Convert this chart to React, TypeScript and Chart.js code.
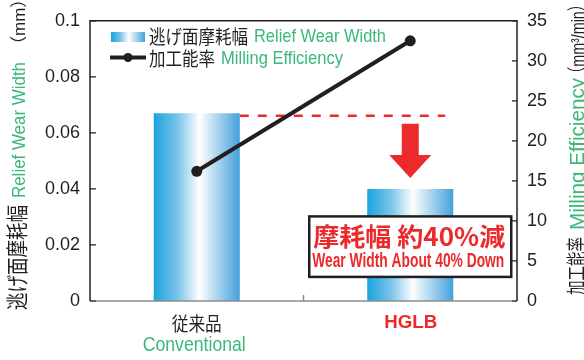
import React, { useEffect, useRef } from 'react';
import { Chart, registerables } from 'chart.js';

Chart.register(...registerables);

// ---------- data ----------
const categoriesJa = ['従来品', 'HGLB'];
const categoriesEn = ['Conventional', ''];
const wearWidthMm = [0.067, 0.04];
const millingEfficiency = [16.2, 32.5];
const leftTickValues = [0, 0.02, 0.04, 0.06, 0.08, 0.1];
const rightTickValues = [0, 5, 10, 15, 20, 25, 30, 35];

const wearJa = '逃げ面摩耗幅';
const wearEn = 'Relief Wear Width';
const effJa = '加工能率';
const effEn = 'Milling Efficiency';
const leftUnit = '（mm）';
const rightUnit = '（mm³/min）';
const calloutJa = '摩耗幅 約40%減';
const calloutEn = 'Wear Width About 40% Down';

// ---------- style ----------
const DARK = '#231f20';
const GREEN = '#3ab87a';
const RED = '#ec2a2b';
const GRAY = '#8c8c8c';
const LAT = '"Liberation Sans", Arial, "Noto Sans CJK JP", sans-serif';
const CJK = '"Noto Sans CJK JP", "Liberation Sans", sans-serif';
const BAR_PCT = 0.403;

function barGradient(ctx: CanvasRenderingContext2D, x0: number, x1: number) {
  const g = ctx.createLinearGradient(x0, 0, x1, 0);
  g.addColorStop(0, '#1ba3dd');
  g.addColorStop(0.28, '#7cc4ea');
  g.addColorStop(0.53, '#ffffff');
  g.addColorStop(1, '#42a0db');
  return g;
}

function drawFit(
  ctx: CanvasRenderingContext2D,
  text: string,
  x: number,
  y: number,
  font: string,
  color: string,
  width?: number,
  baseline: CanvasTextBaseline = 'middle'
) {
  ctx.save();
  ctx.font = font;
  ctx.fillStyle = color;
  ctx.textAlign = 'left';
  ctx.textBaseline = baseline;
  const w = ctx.measureText(text).width;
  const s = width ? width / w : 1;
  ctx.translate(x, y);
  ctx.scale(s, 1);
  ctx.fillText(text, 0, 0);
  ctx.restore();
}

type Seg = { text: string; color: string; font: string; startY: number; width?: number };

function drawVertical(ctx: CanvasRenderingContext2D, baseX: number, H: number, segs: Seg[]) {
  ctx.save();
  ctx.translate(baseX, H);
  ctx.rotate(-Math.PI / 2);
  for (const s of segs) {
    drawFit(ctx, s.text, H - s.startY, 0, s.font, s.color, s.width, 'alphabetic');
  }
  ctx.restore();
}

const decorPlugin = {
  id: 'decor',
  beforeDatasetsDraw(chart: any) {
    const ctx: CanvasRenderingContext2D = chart.ctx;
    const xs = chart.scales.x;
    const ys = chart.scales.y;
    const area = chart.chartArea;
    const half = ((area.right - area.left) / categoriesJa.length) * BAR_PCT / 2;
    const yDash = ys.getPixelForValue(wearWidthMm[0]) + 2.5;
    const x0 = xs.getPixelForValue(0) + half;
    const x1 = xs.getPixelForValue(1) + 35;
    ctx.save();
    ctx.strokeStyle = RED;
    ctx.lineWidth = 2.5;
    ctx.setLineDash([9, 9]);
    ctx.beginPath();
    ctx.moveTo(x0, yDash);
    ctx.lineTo(x1, yDash);
    ctx.stroke();
    ctx.restore();
  },
  afterDatasetsDraw(chart: any) {
    const ctx: CanvasRenderingContext2D = chart.ctx;
    const xs = chart.scales.x;
    const ys = chart.scales.y;
    const cx = xs.getPixelForValue(1);
    const yDash = ys.getPixelForValue(wearWidthMm[0]) + 2.5;
    const yBar2 = ys.getPixelForValue(wearWidthMm[1]);
    // arrow
    const top = yDash + 8;
    const tip = yBar2 - 11;
    const headTop = tip - 23;
    ctx.save();
    ctx.fillStyle = RED;
    ctx.beginPath();
    ctx.moveTo(cx - 8.5, top);
    ctx.lineTo(cx + 8.5, top);
    ctx.lineTo(cx + 8.5, headTop);
    ctx.lineTo(cx + 21, headTop);
    ctx.lineTo(cx, tip);
    ctx.lineTo(cx - 21, headTop);
    ctx.lineTo(cx - 8.5, headTop);
    ctx.closePath();
    ctx.fill();
    // callout box
    const bx = cx - 101;
    const by = yBar2 + 27.5;
    ctx.fillStyle = '#ffffff';
    ctx.fillRect(bx, by, 202, 60.5);
    ctx.strokeStyle = DARK;
    ctx.lineWidth = 2.5;
    ctx.strokeRect(bx, by, 202, 60.5);
    ctx.restore();
    drawFit(ctx, calloutJa, bx + 4, by + 20.5, `bold 25px ${CJK}`, RED, 192);
    drawFit(ctx, calloutEn, bx + 3, by + 44.5, `bold 21px ${LAT}`, RED, 192);
  },
  afterDraw(chart: any) {
    const ctx: CanvasRenderingContext2D = chart.ctx;
    const a = chart.chartArea;
    const ys = chart.scales.y;
    const ys1 = chart.scales.y1;
    const xs = chart.scales.x;
    const H = chart.height;
    ctx.save();
    // bottom axis (gray)
    ctx.strokeStyle = GRAY;
    ctx.lineWidth = 1.5;
    ctx.beginPath();
    ctx.moveTo(a.left, a.bottom);
    ctx.lineTo(a.right, a.bottom);
    const mid = (xs.getPixelForValue(0) + xs.getPixelForValue(1)) / 2;
    ctx.moveTo(mid, a.bottom);
    ctx.lineTo(mid, a.bottom - 6);
    ctx.stroke();
    // left, top, right borders
    ctx.strokeStyle = DARK;
    ctx.beginPath();
    ctx.moveTo(a.left, a.bottom);
    ctx.lineTo(a.left, a.top);
    ctx.lineTo(a.right, a.top);
    ctx.lineTo(a.right, a.bottom);
    ctx.stroke();
    // inner tick marks
    ctx.lineWidth = 1.2;
    ctx.beginPath();
    for (const v of leftTickValues) {
      const y = ys.getPixelForValue(v);
      ctx.moveTo(a.left, y);
      ctx.lineTo(a.left + 6, y);
    }
    for (const v of rightTickValues) {
      const y = ys1.getPixelForValue(v);
      ctx.moveTo(a.right, y);
      ctx.lineTo(a.right - 5, y);
    }
    ctx.stroke();
    ctx.restore();

    // axis titles
    drawVertical(ctx, 25, H, [
      { text: wearJa, color: DARK, font: `22px ${CJK}`, startY: 310, width: 105 },
      { text: wearEn, color: GREEN, font: `18px ${LAT}`, startY: 198, width: 136 },
      { text: leftUnit, color: DARK, font: `17px ${LAT}`, startY: 53 },
    ]);
    drawVertical(ctx, 584, H, [
      { text: effJa, color: DARK, font: `20px ${CJK}`, startY: 295, width: 58 },
      { text: effEn, color: GREEN, font: `20px ${LAT}`, startY: 230, width: 152 },
      { text: rightUnit, color: DARK, font: `19px ${LAT}`, startY: 81, width: 84 },
    ]);

    // legend
    ctx.save();
    ctx.fillStyle = barGradient(ctx, 111, 145);
    ctx.fillRect(111, 32, 34, 10);
    ctx.strokeStyle = DARK;
    ctx.lineWidth = 4;
    ctx.beginPath();
    ctx.moveTo(110, 57.5);
    ctx.lineTo(146, 57.5);
    ctx.stroke();
    ctx.fillStyle = DARK;
    ctx.beginPath();
    ctx.arc(128, 57.5, 4.5, 0, Math.PI * 2);
    ctx.fill();
    ctx.restore();
    drawFit(ctx, wearJa, 149, 37, `19px ${CJK}`, DARK, 99);
    drawFit(ctx, wearEn, 254, 37, `19px ${LAT}`, GREEN, 132);
    drawFit(ctx, effJa, 149, 58.5, `19px ${CJK}`, DARK, 66);
    drawFit(ctx, effEn, 221, 58.5, `19px ${LAT}`, GREEN, 122);

    // category labels
    const c0 = xs.getPixelForValue(0);
    const c1 = xs.getPixelForValue(1);
    drawFit(ctx, categoriesJa[0], c0 - 25, 323.5, `19px ${CJK}`, DARK, 50);
    drawFit(ctx, categoriesEn[0], c0 - 54, 345.5, `21px ${LAT}`, GREEN, 103);
    drawFit(ctx, categoriesJa[1], c1 - 26, 323, `bold 18px ${LAT}`, RED, 53);
  },
};

export default function App() {
  const ref = useRef<HTMLCanvasElement | null>(null);
  useEffect(() => {
    if (!ref.current) return;
    const chart = new Chart(ref.current, {
      data: {
        labels: categoriesJa,
        datasets: [
          {
            type: 'line',
            label: effJa,
            data: millingEfficiency,
            yAxisID: 'y1',
            borderColor: DARK,
            borderWidth: 4,
            pointRadius: 5.5,
            pointBackgroundColor: DARK,
            pointBorderWidth: 0,
            order: 0,
          },
          {
            type: 'bar',
            label: wearJa,
            data: wearWidthMm,
            yAxisID: 'y',
            barPercentage: BAR_PCT,
            categoryPercentage: 1,
            borderWidth: 0,
            order: 1,
            backgroundColor: (c: any) => {
              const chart = c.chart;
              const area = chart.chartArea;
              if (!area || typeof c.dataIndex !== 'number') return '#29a8e0';
              const xs = chart.scales.x;
              const center = xs.getPixelForValue(c.dataIndex);
              const half = ((area.right - area.left) / categoriesJa.length) * BAR_PCT / 2;
              if (!isFinite(center)) return '#29a8e0';
              return barGradient(chart.ctx, center - half, center + half);
            },
          },
        ] as any,
      },
      options: {
        animation: false,
        responsive: true,
        maintainAspectRatio: false,
        layout: { padding: { top: 13, left: 0, right: 0, bottom: 0 } },
        plugins: { legend: { display: false }, tooltip: { enabled: false } },
        scales: {
          x: {
            type: 'category',
            offset: true,
            grid: { display: false },
            border: { display: false },
            ticks: { display: false },
            afterFit: (s: any) => {
              s.height = 59;
            },
          },
          y: {
            position: 'left',
            min: 0,
            max: 0.1,
            grid: { display: false, drawTicks: false },
            border: { display: false },
            afterBuildTicks: (s: any) => {
              s.ticks = leftTickValues.map((v) => ({ value: v }));
            },
            ticks: {
              padding: 10,
              color: DARK,
              font: { family: LAT, size: 18 },
              callback: (v: any) => String(v),
            },
            afterFit: (s: any) => {
              s.width = 90;
            },
          },
          y1: {
            position: 'right',
            min: 0,
            max: 35,
            grid: { display: false, drawTicks: false },
            border: { display: false },
            afterBuildTicks: (s: any) => {
              s.ticks = rightTickValues.map((v) => ({ value: v }));
            },
            ticks: {
              padding: 10,
              color: DARK,
              font: { family: LAT, size: 18 },
              callback: (v: any) => String(v),
            },
            afterFit: (s: any) => {
              s.width = 67;
            },
          },
        },
      } as any,
      plugins: [decorPlugin],
    });
    return () => chart.destroy();
  }, []);
  return (
    <div style={{ position: 'fixed', left: 0, top: 0, width: 584, height: 360, background: '#fff' }}>
      <canvas ref={ref} />
    </div>
  );
}
